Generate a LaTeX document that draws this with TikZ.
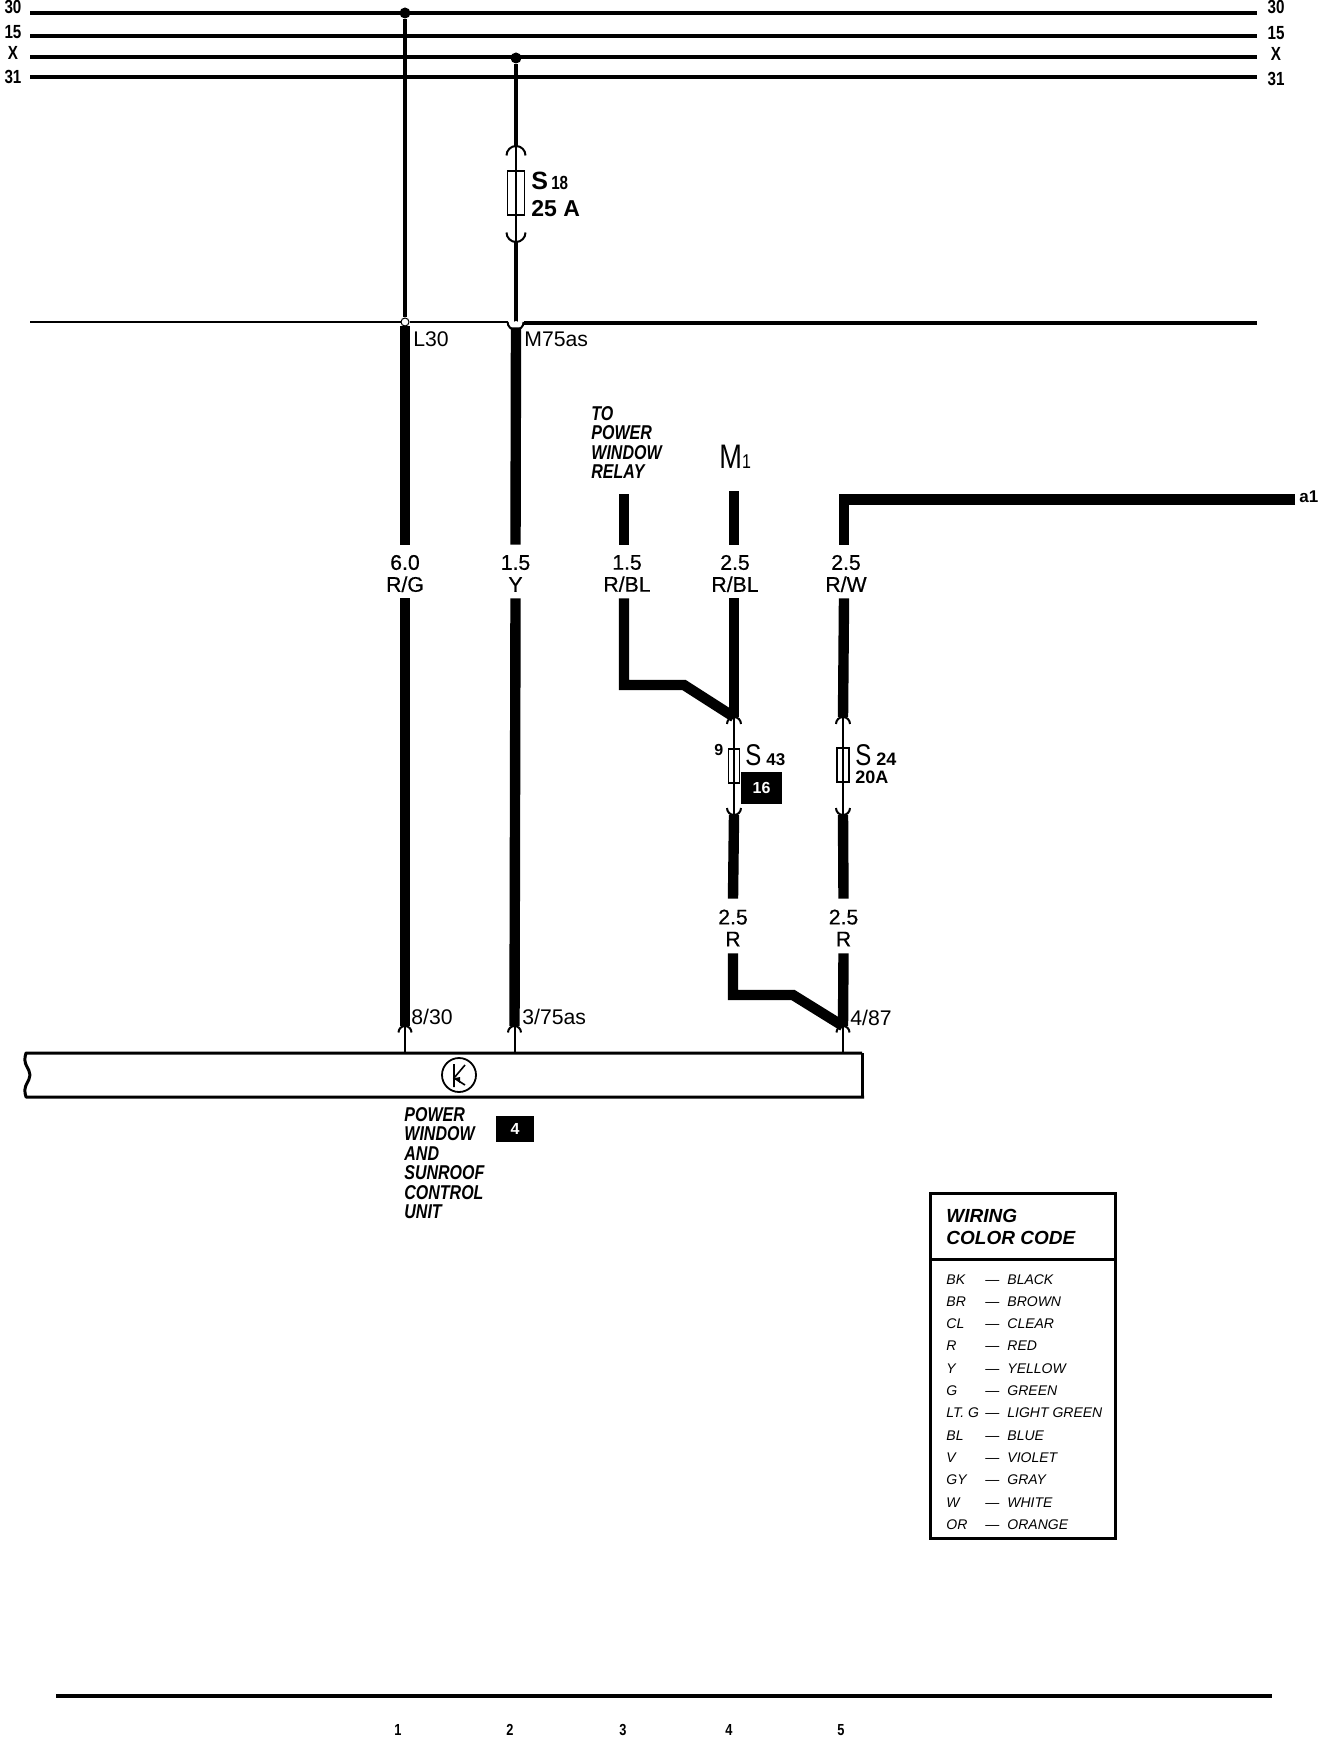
\documentclass[tikz,border=0pt]{standalone}
\usepackage{fontspec}
\setmainfont{Liberation Sans}
\newfontfamily\narrowfont[FakeStretch=0.8]{Liberation Sans}
\newfontfamily\heavyfont[FakeBold=0.5]{Liberation Sans}
\usepackage{tikz}
\tikzset{
    rail/.style={line width=2pt},
    feed/.style={line width=1.75pt},
    lead/.style={line width=1pt},
    wire/.style={line width=5.2pt},
    dot/.style={circle, fill=black, inner sep=0pt, minimum size=5.5pt},
    gauge/.style={inner sep=0pt, align=center, minimum height=26.5pt, font=\heavyfont\fontsize{10.6}{11}\selectfont},
    railtag/.style={inner sep=0pt, font=\narrowfont\bfseries\fontsize{9.5}{10}\selectfont},
    thin tag/.style={inner sep=0pt, anchor=base west, font=\fontsize{10.6}{11}\selectfont},
    caption/.style={inner sep=0pt, anchor=north west, align=left, font=\narrowfont\bfseries\itshape\fontsize{10}{9.75}\selectfont},
    blackbox/.style={fill=black, text=white, inner sep=0pt, font=\bfseries\fontsize{8}{9}\selectfont},
    legendtext/.style={inner sep=0pt, anchor=base west, font=\itshape\fontsize{7}{8}\selectfont}
}
\begin{document}
\begin{tikzpicture}[x=0.5pt, y=-0.5pt]
    \useasboundingbox (0,0) rectangle (1328,1738);

    \foreach \name/\rail/\tagl/\tagr/\txt/\weight in {A/13/7/7/30/2pt, B/36/32/33/15/2pt, C/57/53/54/X/2pt, D/77/77/79/31/1.7pt} {
        \node (left\name) at (13,\tagl) [railtag] {\txt};
        \node (right\name) at (1276,\tagr) [railtag] {\txt};
        \coordinate (start\name) at (30,\rail);
        \coordinate (end\name) at (1257,\rail);
        \draw[line width=\weight] (start\name) -- (end\name);
    }

    \node (tapA) at (405,13) [dot] {};
    \node (tapB) at (516,58) [dot] {};

    \foreach \name/\x/\y/\w/\h/\r/\ya/\yb in {S/516/193/8.5pt/22pt/9.5/146/242, D/734/766/5.5pt/17pt/7/717/815, E/843/765/6pt/17pt/7/717/815} {
        \node (fuse\name) at (\x,\y) [draw, line width=0.8pt, inner sep=0pt, minimum width=\w, minimum height=\h] {};
        \coordinate (capT\name) at (\x,\ya);
        \coordinate (capB\name) at (\x,\yb);
        \draw[lead] (capT\name) -- (capB\name);
        \draw[lead] (\x-\r,\ya+\r) arc[start angle=180, end angle=360, radius=\r];
        \draw[lead] (\x-\r,\yb-\r) arc[start angle=180, end angle=0, radius=\r];
    }

    \coordinate (busL) at (30,322);
    \coordinate (busR) at (1257,323);
    \node (joinL) at (405,322) [circle, draw, fill=white, line width=0.5pt, inner sep=0pt, minimum size=4pt] {};
    \node (joinM) at (516,322) [circle, inner sep=0pt, minimum size=8pt] {};

    \draw[line width=1.2pt] (busL) -- (joinL) -- (joinM.west);
    \draw[rail] (joinM.east |- busR) -- (busR);
    \draw[rail] (tapA) -- (joinL);
    \draw[line width=2.4pt] (tapB) -- (capTS);
    \draw[feed] (capBS) -- (joinM.center);
    \draw[lead] (joinM.west) arc[start angle=180, end angle=0, radius=8];
    \node (dotM) at (516,324) [circle, fill=white, inner sep=0pt, minimum size=3pt] {};

    \node (labL) at (413,347) [thin tag] {L30};
    \node (labM) at (524,347) [thin tag] {M75as};

    \node (gaugeA) at (405,573.5) [gauge] {6.0\\R/G};
    \node (gaugeB) at (515.5,573.5) [gauge] {1.5\\Y};
    \node (gaugeC) at (627,573.5) [gauge] {1.5\\R/BL};
    \node (gaugeD) at (735,573.5) [gauge] {2.5\\R/BL};
    \node (gaugeE) at (846,573.5) [gauge] {2.5\\R/W};
    \node (gaugeF) at (733,928) [gauge, minimum height=27pt] {2.5\\R};
    \node (gaugeG) at (843.5,928) [gauge, minimum height=27pt] {2.5\\R};

    \foreach \name/\x in {A/405, B/514.5, E/843} {
        \coordinate (pin\name) at (\x,1053);
        \coordinate (tip\name) at (\x,1026);
        \draw[lead] (tip\name) -- (pin\name);
        \draw[lead] (\x-6.5,1032.5) arc[start angle=180, end angle=360, radius=6.5];
    }

    \coordinate (headC) at (624,494);
    \coordinate (headD) at (734,491);
    \coordinate (cornerE) at (844,499.5);
    \coordinate (endE) at (1295,499.5);
    \coordinate (bendC) at (624,685);
    \coordinate (kneeC) at (684,685);
    \coordinate (bendF) at (733,995);
    \coordinate (kneeF) at (793,995);

    \draw[wire] (joinL.south) -- ([yshift=1pt]gaugeA.north);
    \draw[wire] ([yshift=1pt]gaugeA.south) -- (tipA);
    \draw[wire] (dotM.south) -- ([yshift=1pt]gaugeB.north);
    \draw[wire] ([yshift=1pt]gaugeB.south) -- (tipB);
    \draw[wire] (headC) -- ([xshift=-1.5pt,yshift=1pt]gaugeC.north);
    \draw[wire] ([xshift=-1.5pt,yshift=1pt]gaugeC.south) -- (bendC) -- (kneeC) -- (capTD);
    \draw[wire] (headD) -- ([xshift=-0.5pt,yshift=1pt]gaugeD.north);
    \draw[wire] ([xshift=-0.5pt,yshift=1pt]gaugeD.south) -- (capTD);
    \draw[wire] (endE) -- (cornerE) -- ([xshift=-1pt,yshift=1pt]gaugeE.north);
    \draw[wire] ([xshift=-1pt,yshift=1pt]gaugeE.south) -- (capTE);
    \draw[wire] (capBD) -- ([yshift=1pt]gaugeF.north);
    \draw[wire] (capBE) -- ([yshift=1pt]gaugeG.north);
    \draw[wire] ([yshift=1pt]gaugeF.south) -- (bendF) -- (kneeF) -- (tipE);
    \draw[wire] ([yshift=1pt]gaugeG.south) -- (tipE);

    \node (nameS) at (531,190) [inner sep=0pt, anchor=base west, font=\bfseries\fontsize{12.5}{13}\selectfont] {S{\narrowfont\fontsize{9.5}{10}\selectfont\,18}};
    \node (ampS) at (531,217) [inner sep=0pt, anchor=base west, font=\bfseries\fontsize{11.5}{12}\selectfont] {25 A};
    \node (nameD) at (745,765) [inner sep=0pt, anchor=base west, font=\narrowfont\fontsize{15}{16}\selectfont] {S\,{\normalfont\bfseries\fontsize{8.5}{9}\selectfont 43}};
    \node (nameE) at (855,765) [inner sep=0pt, anchor=base west, font=\narrowfont\fontsize{15}{16}\selectfont] {S\,{\normalfont\bfseries\fontsize{9}{9}\selectfont 24}};
    \node (ampE) at (855,783) [inner sep=0pt, anchor=base west, font=\bfseries\fontsize{9}{10}\selectfont] {20A};
    \node (markD) at (714,755) [inner sep=0pt, anchor=base west, font=\bfseries\fontsize{8}{9}\selectfont] {9};
    \node (boxD) at (761.5,788) [blackbox, minimum width=20.5pt, minimum height=16pt] {16};
    \node (relay) at (591,406) [caption] {TO\\POWER\\WINDOW\\RELAY};
    \node (nameM) at (719,468) [inner sep=0pt, anchor=base west, font=\narrowfont\fontsize{17}{17}\selectfont] {M{\fontsize{10}{10}\selectfont 1}};
    \node (a1) at (1299,497) [inner sep=0pt, anchor=west, font=\bfseries\fontsize{8.5}{9}\selectfont] {a1};

    \draw[line width=1.5pt, line join=round] (862,1053) -- (26,1053) .. controls (22,1065) and (30,1068) .. (30,1075) .. controls (30,1082) and (22,1085) .. (26,1097) -- (864,1097);
    \draw[line width=1.5pt] (862,1053) -- (862,1097);

    \node (labA) at (411,1024) [thin tag] {8/30};
    \node (labB) at (522,1024) [thin tag] {3/75as};
    \node (labE) at (850,1025) [thin tag] {4/87};

    \node (ctrl) at (459,1075) [circle, draw, line width=0.9pt, inner sep=0pt, minimum size=17pt] {};
    \draw[line width=0.8pt, shift={(459,1075)}] (-5,-11) -- (-5,12) (6,-10) -- (-5,3) -- (6,10);
    \fill[shift={(459,1075)}] (-4,3) -- (1,2) -- (1,8) -- cycle;

    \node (unit) at (404,1107) [caption] {POWER\\WINDOW\\AND\\SUNROOF\\CONTROL\\UNIT};
    \node (boxU) at (515,1129) [blackbox, minimum width=19pt, minimum height=13pt] {4};

    \node (legend) at (1022.5,1365.5) [draw, line width=1.5pt, inner sep=0pt, minimum width=92.5pt, minimum height=172.5pt] {};
    \coordinate (splitL) at (930,1259);
    \coordinate (splitR) at (1115,1259);
    \draw[line width=1.5pt] (splitL) -- (splitR);
    \node (legendhead) at (946,1209) [inner sep=0pt, anchor=north west, align=left, font=\bfseries\itshape\fontsize{9.5}{11}\selectfont] {WIRING\\COLOR CODE};

    \foreach \i/\short/\long in {0/BK/BLACK, 1/BR/BROWN, 2/CL/CLEAR, 3/R/RED, 4/Y/YELLOW, 5/G/GREEN, 6/LT. G/LIGHT GREEN, 7/BL/BLUE, 8/V/VIOLET, 9/GY/GRAY, 10/W/WHITE, 11/OR/ORANGE} {
        \node (short\i) at (946,1284+22.3*\i) [legendtext] {\short};
        \node (dash\i) at (985,1284+22.3*\i) [legendtext] {—};
        \node (long\i) at (1007,1284+22.3*\i) [legendtext] {\long};
    }

    \coordinate (footL) at (56,1696);
    \coordinate (footR) at (1272,1696);
    \draw[rail] (footL) -- (footR);
    \foreach \i/\x in {1/398, 2/510, 3/623, 4/729, 5/841} {
        \node (col\i) at (\x,1730) [inner sep=0pt, font=\narrowfont\bfseries\fontsize{8}{9}\selectfont] {\i};
    }
\end{tikzpicture}
\end{document}
